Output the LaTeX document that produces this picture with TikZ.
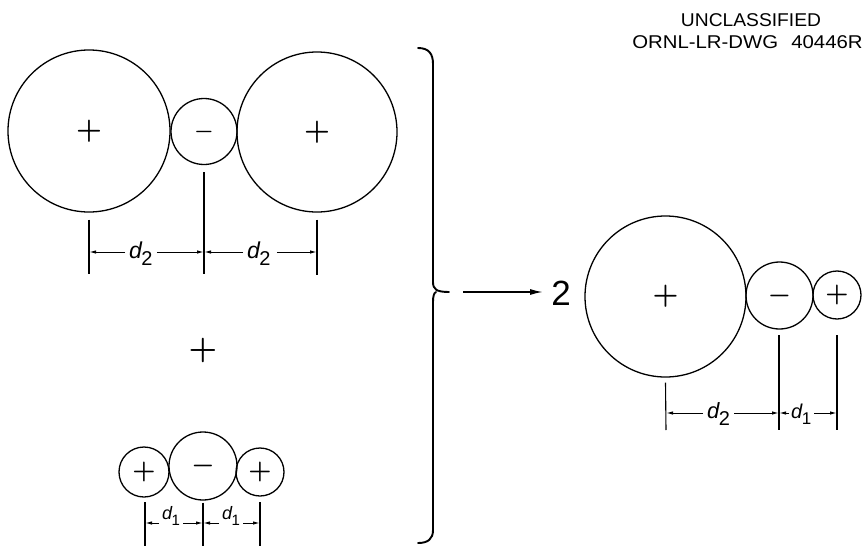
\documentclass[tikz,border=0pt]{standalone}
\usepackage{fontspec}
\setmainfont{Liberation Sans}
\usetikzlibrary{arrows.meta}
\newcommand\dlab[3]{{\fontsize{#1}{#1}\selectfont\itshape d}\raisebox{-#2pt}{\fontsize{#3}{#3}\selectfont\kern-0.5pt 2}}
\newcommand\dlabone[3]{{\fontsize{#1}{#1}\selectfont\itshape d}\raisebox{-#2pt}{\fontsize{#3}{#3}\selectfont\kern-0.5pt 1}}
\newcommand\bsgn[2]{\scalebox{#1}{\boldmath$#2$}}
\begin{document}
\begin{tikzpicture}[x=1pt,y=-1pt,
  ring/.style={circle,draw,line width=1.3pt,inner sep=0pt},
  tk/.style={line width=1.1pt},
  dim/.style={line width=1pt,-{Latex[length=7pt,width=3.4pt]}},
  lbl/.style={inner sep=0pt,anchor=base west}]
\useasboundingbox (0,0) rectangle (865,546);

% header
\node[inner sep=0pt] (h1) at (751,20) {\fontsize{18.5}{18.5}\selectfont\scalebox{1.04}[1]{UNCLASSIFIED}};
\node[inner sep=0pt] (h2) at (747.5,42) {\fontsize{18.5}{18.5}\selectfont\scalebox{1.1}[1]{ORNL-LR-DWG\hspace{12pt}40446R}};

% top row
\node[ring,minimum size=162pt] (A) at (89,131) {\bsgn{2.9}{+}};
\node[ring,minimum size=66pt] (B) at (204,131.5) {\bsgn{2.2}{-}};
\node[ring,minimum size=160pt] (C) at (317,132) {\bsgn{2.9}{+}};
\coordinate (a1) at (89,274); \coordinate (b1) at (204,274); \coordinate (c1) at (317,275);
\draw[tk] ([yshift=-7pt]A.south) -- (a1);
\draw[tk] ([yshift=-7pt]B.south) -- (b1);
\draw[tk] ([yshift=-7pt]C.south) -- (c1);
\coordinate (pa) at (89,252); \coordinate (pb) at (204,252); \coordinate (pc) at (317,252);
\node[lbl] (L1) at (129,258) {\dlab{23}{7}{20}};
\node[lbl] (L2) at (247,258) {\dlab{23}{7}{20}};
\draw[dim] ([xshift=-4pt]L1.west |- pa) -- (pa);
\draw[dim] ([xshift=4pt]L1.east |- pa) -- (pb);
\draw[dim] ([xshift=-4pt]L2.west |- pb) -- (pb);
\draw[dim] ([xshift=6pt]L2.east |- pc) -- (pc);

% plus between rows
\node[inner sep=0pt] (P) at (203,350) {\bsgn{3.2}{+}};

% bottom row
\node[ring,minimum size=50pt] (D) at (144,472) {\bsgn{2.6}{+}};
\node[ring,minimum size=68pt] (E) at (203,466) {\bsgn{2.6}{-}};
\node[ring,minimum size=48pt] (F) at (260,472) {\bsgn{2.6}{+}};
\coordinate (d1) at (145,546); \coordinate (e1) at (203,546); \coordinate (f1) at (260,546);
\draw[tk] (145,502) -- (d1);
\draw[tk] ([yshift=-2pt]E.south) -- (e1);
\draw[tk] (260,502) -- (f1);
\coordinate (pd) at (145,523); \coordinate (pe) at (203,523); \coordinate (pf) at (260,523);
\node[lbl] (L3) at (162,519) {\dlabone{18}{6}{15}};
\node[lbl] (L4) at (222,519) {\dlabone{18}{6}{15}};
\draw[dim] ([xshift=-3pt]L3.west |- pd) -- (pd);
\draw[dim] ([xshift=3pt]L3.east |- pd) -- (pe);
\draw[dim] ([xshift=-3pt]L4.west |- pe) -- (pe);
\draw[dim] ([xshift=3pt]L4.east |- pf) -- (pf);

% brace
\draw[line width=1.9pt,line cap=round]
  (418,48) .. controls (429,48) and (433,54) .. (433,64) -- (433,282)
  .. controls (433,289) and (436,292) .. (449,292)
  (436,292) .. controls (434,293) and (433,296) .. (433,302) -- (433,530)
  .. controls (433,539) and (428,543) .. (418,543);

% main arrow and result
\node[inner sep=0pt,font=\fontsize{35}{35}\selectfont] (two) at (561,293) {2};
\coordinate (s0) at (463,292);
\draw[line width=1.5pt,-{Latex[length=13pt,width=6pt]}] (s0) -- ([xshift=-8pt]two.west |- s0);

\node[ring,minimum size=161pt] (G) at (665.5,296.5) {\bsgn{2.9}{+}};
\node[ring,minimum size=67pt] (H) at (779.5,295.5) {\bsgn{2.6}{-}};
\node[ring,minimum size=48pt] (I) at (837,295) {\bsgn{2.6}{+}};
\coordinate (g1) at (666,430); \coordinate (h1) at (779,430); \coordinate (i1) at (837,430);
\draw[tk] ([yshift=-5pt]G.south) -- (g1);
\draw[tk] (779,335) -- (h1);
\draw[tk] (837,335) -- (i1);
\coordinate (pg) at (666,413); \coordinate (ph) at (779,413); \coordinate (pi) at (837,413);
\node[lbl] (L5) at (707,418) {\dlab{22}{7}{20}};
\node[lbl] (L6) at (791,418) {\dlabone{20}{6}{17}};
\draw[dim] ([xshift=-4pt]L5.west |- pg) -- (pg);
\draw[dim] ([xshift=4pt]L5.east |- ph) -- (ph);
\draw[dim] ([xshift=-2pt]L6.west |- ph) -- (ph);
\draw[dim] ([xshift=3pt]L6.east |- pi) -- (pi);
\end{tikzpicture}
\end{document}
